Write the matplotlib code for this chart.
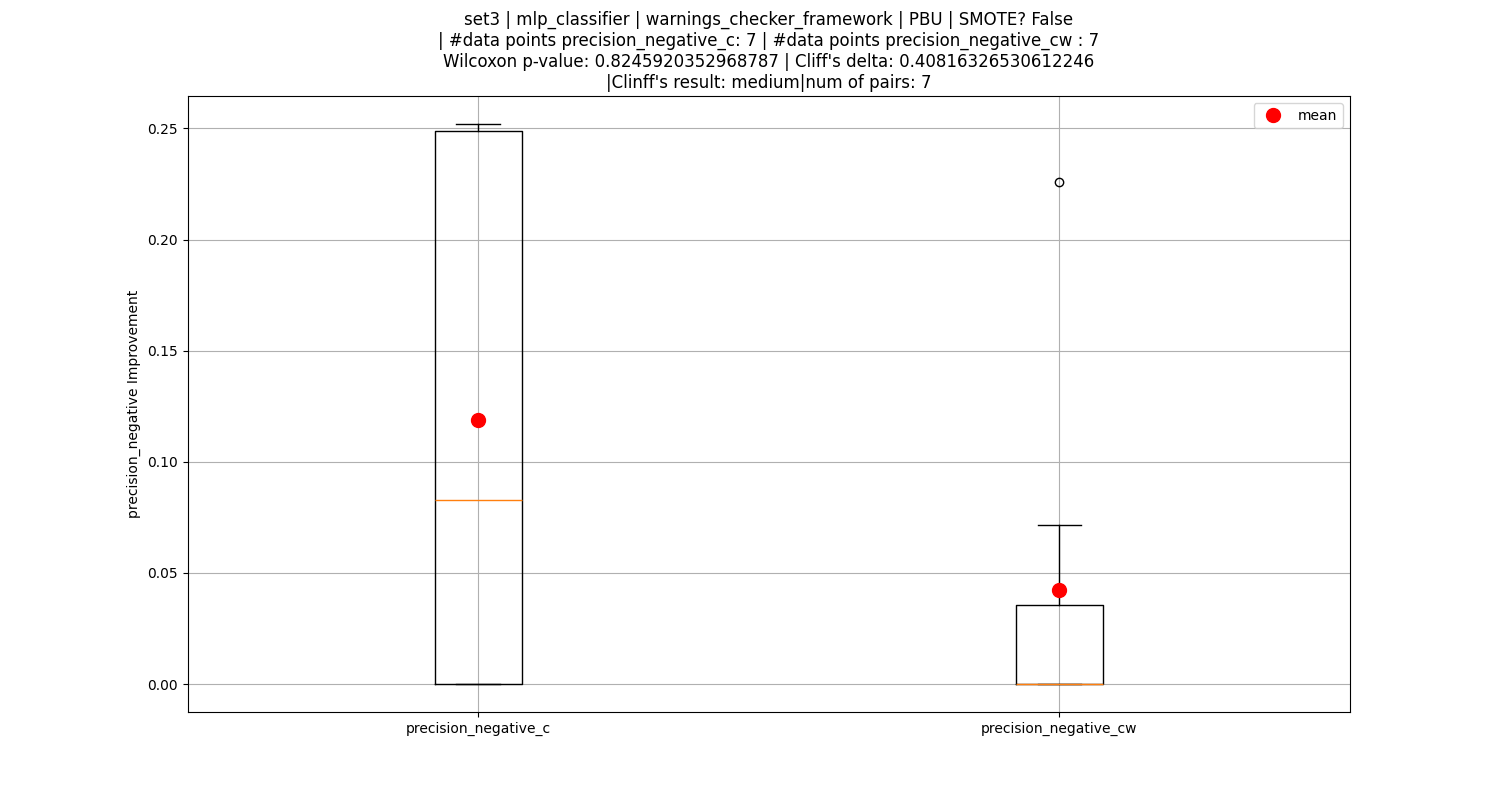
import matplotlib
matplotlib.use("Agg")
import matplotlib.pyplot as plt
import numpy as np

labels = ["precision_negative_c", "precision_negative_cw"]
values_c = [0.0, 0.0, 0.0, 0.083, 0.247, 0.251, 0.252]
values_cw = [0.0, 0.0, 0.0, 0.0, 0.0, 0.0715, 0.226]

title = ("set3 | mlp_classifier | warnings_checker_framework | PBU | SMOTE? False\n"
         "| #data points precision_negative_c: 7 | #data points precision_negative_cw : 7\n"
         "Wilcoxon p-value: 0.8245920352968787 | Cliff's delta: 0.40816326530612246\n"
         "|Clinff's result: medium|num of pairs: 7")

fig = plt.figure(figsize=(15, 8), dpi=100)
ax = fig.add_subplot(111)
data = [values_c, values_cw]
ax.boxplot(data, widths=0.15)
ax.set_xticks([1, 2])
ax.set_xticklabels(labels)
means = [np.mean(d) for d in data]
ax.plot([1, 2], means, "o", color="red", markersize=10, linestyle="none", label="mean")
ax.set_ylabel("precision_negative Improvement")
ax.set_title(title, fontsize=12)
ax.grid(True)
ax.legend(loc="upper right")
plt.savefig("out.png")
